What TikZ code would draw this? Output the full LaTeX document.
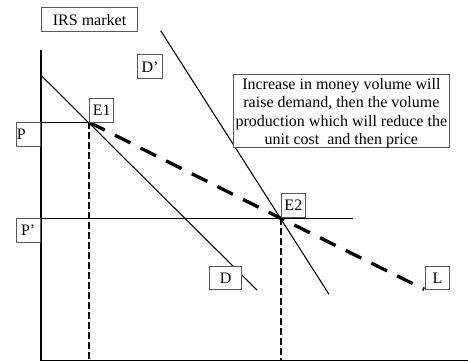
\documentclass[tikz,border=0pt]{standalone}
\usepackage{fontspec}
\setmainfont{Liberation Serif}
\newcommand{\px}{0.75pt}

\begin{document}
\begin{tikzpicture}[x=\px, y=-\px,
    box/.style={draw=black!65, fill=white, line width=0.8pt, rectangle, anchor=north west, inner sep=0pt, minimum width=18pt, minimum height=17.5pt, font=\fontsize{12}{13.8}\selectfont},
    axis/.style={line width=1.5pt},
    curve/.style={line width=0.8pt},
    guide/.style={line width=1.5pt, dash pattern=on 5pt off 2.5pt},
    longrun/.style={line width=2.5pt, dash pattern=on 13pt off 8.5pt}]
    \useasboundingbox (0,0) rectangle (468,362);

    % Axes
    \coordinate (origin) at (40.7,360.6);
    \coordinate (ytop) at (40.7,50);
    \coordinate (xend) at (468,360.6);
    \draw[axis] (ytop) -- (origin);
    \draw[line width=1pt] (origin) -- (xend);

    % Equilibria and curve ends
    \coordinate (E1) at (89.3,122.3);
    \coordinate (E2) at (280.7,218.3);
    \coordinate (d-top) at (40.7,75);
    \coordinate (d-end) at (257,290);
    \coordinate (dd-top) at (160.7,30.7);
    \coordinate (dd-end) at (329,294.3);
    \coordinate (l-end) at (424.3,289.3);
    \coordinate (pp-end) at (353.3,218.3);
    \coordinate (p-end) at (113.3,122.3);

    % Curves
    \draw[curve] (d-top) -- (d-end);
    \draw[curve] (dd-top) -- (dd-end);
    \draw[curve] (ytop |- E1) -- (p-end);
    \draw[curve] (ytop |- E2) -- (pp-end);
    \draw[guide] (E1) -- (E1 |- origin);
    \draw[guide] (E2) -- (E2 |- origin);
    \draw[longrun] (E1) -- (E2) -- (l-end);

    % Labels
    \node[box, minimum width=72pt, minimum height=18pt] (market) at (41,7) {IRS market};
    \node[box, minimum width=19.2pt, minimum height=18pt] (lbl-dd) at (136.7,54.3) {D’};
    \node[box, minimum width=18.2pt] (lbl-e1) at (89,98.3) {E1};
    \node[box, anchor=north east, text width=17pt, inner xsep=0.5pt, align=left] (lbl-p) at (40.7,122.3) {P};
    \node[box, anchor=north east] (lbl-pp) at (40.7,218.3) {P’};
    \node[box, anchor=south west, minimum width=18.2pt, minimum height=18.2pt] (lbl-e2) at (280.7,218.3) {E2};
    \node[box, minimum width=24pt] (lbl-d) at (209,266) {D};
    \node[box] (lbl-l) at (425,266) {L};
    \node[box, minimum width=162.2pt, minimum height=53.8pt, align=center] (note) at (232.7,74)
        {\rule{0pt}{11pt}Increase in money volume will\\ raise demand, then the volume\\ production which will reduce the\\ unit cost\ \ and then price};

\end{tikzpicture}
\end{document}
